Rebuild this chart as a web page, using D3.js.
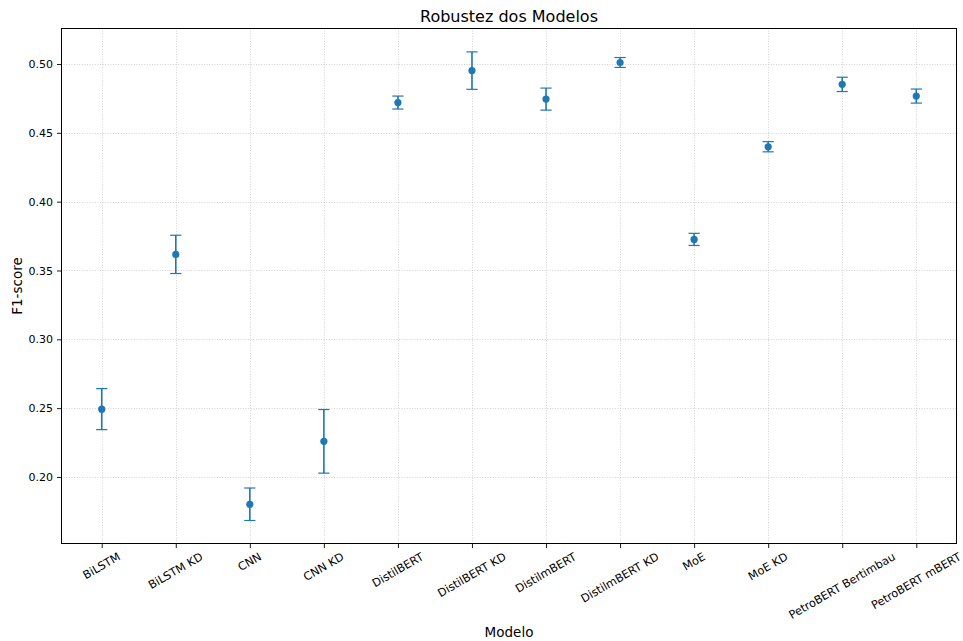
<!DOCTYPE html>
<html>
<head>
<meta charset="utf-8">
<script src="https://cdn.jsdelivr.net/npm/d3@7"></script>
<style>
  html, body { margin: 0; padding: 0; background: #fff; }
  svg { display: block; font-family: "DejaVu Sans", sans-serif; }
</style>
</head>
<body>
<svg id="chart" width="963" height="641"></svg>
<script>
// Model names (x categories)
const modelos = [
  "BiLSTM", "BiLSTM KD", "CNN", "CNN KD", "DistilBERT", "DistilBERT KD",
  "DistilmBERT", "DistilmBERT KD", "MoE", "MoE KD",
  "PetroBERT Bertimbau", "PetroBERT mBERT"
];
// Mean F1-score per model
const f1Medio = [
  0.2493, 0.3617, 0.1802, 0.2259, 0.4720, 0.4952,
  0.4745, 0.5011, 0.3726, 0.4399, 0.4852, 0.4767
];
// Standard deviation (error bar half-length)
const f1Desvio = [
  0.0149, 0.0139, 0.0118, 0.0231, 0.0047, 0.0136,
  0.0080, 0.0036, 0.0044, 0.0037, 0.0052, 0.0051
];
// Y tick values
const yTicks = [0.20, 0.25, 0.30, 0.35, 0.40, 0.45, 0.50];

const svg = d3.select("#chart");
const m = { left: 61, right: 957, top: 28, bottom: 544 };
const color = "#1f77b4";

const x = d3.scaleLinear()
  .domain([-0.55, modelos.length - 1 + 0.55])
  .range([m.left, m.right]);
const y = d3.scaleLinear()
  .domain([0.15133, 0.52615])
  .range([m.bottom, m.top]);

// Dotted grid on both axes
const grid = svg.append("g").attr("class", "grid");
grid.selectAll("line.gy").data(yTicks).join("line")
  .attr("x1", m.left).attr("x2", m.right)
  .attr("y1", d => Math.round(y(d)) + 0.5).attr("y2", d => Math.round(y(d)) + 0.5)
  .attr("stroke", "#b0b0b0").attr("stroke-opacity", 0.7)
  .attr("stroke-width", 0.8).attr("stroke-dasharray", "1,1.6");
grid.selectAll("line.gx").data(modelos.map((d, i) => i)).join("line")
  .attr("y1", m.top).attr("y2", m.bottom)
  .attr("x1", d => Math.round(x(d)) + 0.5).attr("x2", d => Math.round(x(d)) + 0.5)
  .attr("stroke", "#b0b0b0").attr("stroke-opacity", 0.7)
  .attr("stroke-width", 0.8).attr("stroke-dasharray", "1,1.6");

// Axes
const yAxis = d3.axisLeft(y).tickValues(yTicks).tickFormat(d3.format(".2f"))
  .tickSize(4).tickPadding(4);
const gy = svg.append("g").attr("transform", `translate(${m.left},0)`).call(yAxis);
gy.select(".domain").remove();
gy.selectAll("text").attr("font-size", 11).attr("fill", "#000")
  .attr("font-family", "DejaVu Sans, sans-serif");
gy.selectAll("line").attr("stroke", "#000").attr("stroke-width", 0.9);

const xAxis = d3.axisBottom(x).tickValues(modelos.map((d, i) => i))
  .tickFormat(() => "").tickSize(4);
const gx = svg.append("g").attr("transform", `translate(0,${m.bottom})`).call(xAxis);
gx.select(".domain").remove();
gx.selectAll("line").attr("stroke", "#000").attr("stroke-width", 0.9);

// Rotated x tick labels, centered on tick, top of rotated box under the tick
const ang = 30 * Math.PI / 180;
const fs = 11.3;
const labelTop = m.bottom + 4 + 3;
modelos.forEach((name, i) => {
  const t = svg.append("text")
    .attr("font-size", fs).attr("fill", "#000")
    .attr("text-anchor", "middle")
    .attr("dominant-baseline", "central")
    .text(name);
  const w = t.node().getComputedTextLength();
  const h = fs * 1.0;
  const boxH = w * Math.sin(ang) + h * Math.cos(ang);
  const cx = x(i), cy = labelTop + boxH / 2;
  t.attr("x", cx).attr("y", cy).attr("transform", `rotate(-30,${cx},${cy})`);
});

// Frame
svg.append("rect")
  .attr("x", m.left + 0.5).attr("y", m.top + 0.5)
  .attr("width", m.right - m.left - 1).attr("height", m.bottom - m.top - 1)
  .attr("fill", "none").attr("stroke", "#000").attr("stroke-width", 1);

// Error bars and points
const data = modelos.map((n, i) => ({ i, mean: f1Medio[i], sd: f1Desvio[i] }));
const eb = svg.append("g");
eb.selectAll("line.v").data(data).join("line")
  .attr("x1", d => x(d.i)).attr("x2", d => x(d.i))
  .attr("y1", d => y(d.mean - d.sd)).attr("y2", d => y(d.mean + d.sd))
  .attr("stroke", color).attr("stroke-width", 1.6);
eb.selectAll("line.top").data(data).join("line")
  .attr("x1", d => x(d.i) - 5.6).attr("x2", d => x(d.i) + 5.6)
  .attr("y1", d => y(d.mean + d.sd)).attr("y2", d => y(d.mean + d.sd))
  .attr("stroke", color).attr("stroke-width", 1.2);
eb.selectAll("line.bot").data(data).join("line")
  .attr("x1", d => x(d.i) - 5.6).attr("x2", d => x(d.i) + 5.6)
  .attr("y1", d => y(d.mean - d.sd)).attr("y2", d => y(d.mean - d.sd))
  .attr("stroke", color).attr("stroke-width", 1.2);
eb.selectAll("circle").data(data).join("circle")
  .attr("cx", d => x(d.i)).attr("cy", d => y(d.mean)).attr("r", 3.6)
  .attr("fill", color);

// Titles
svg.append("text").attr("x", (m.left + m.right) / 2).attr("y", 22)
  .attr("text-anchor", "middle").attr("font-size", 16).attr("fill", "#000")
  .text("Robustez dos Modelos");
svg.append("text").attr("x", (m.left + m.right) / 2).attr("y", 637)
  .attr("text-anchor", "middle").attr("font-size", 13.5).attr("fill", "#000")
  .text("Modelo");
svg.append("text")
  .attr("transform", `translate(22,${(m.top + m.bottom) / 2}) rotate(-90)`)
  .attr("text-anchor", "middle").attr("font-size", 13.5).attr("fill", "#000")
  .text("F1-score");
</script>
</body>
</html>
